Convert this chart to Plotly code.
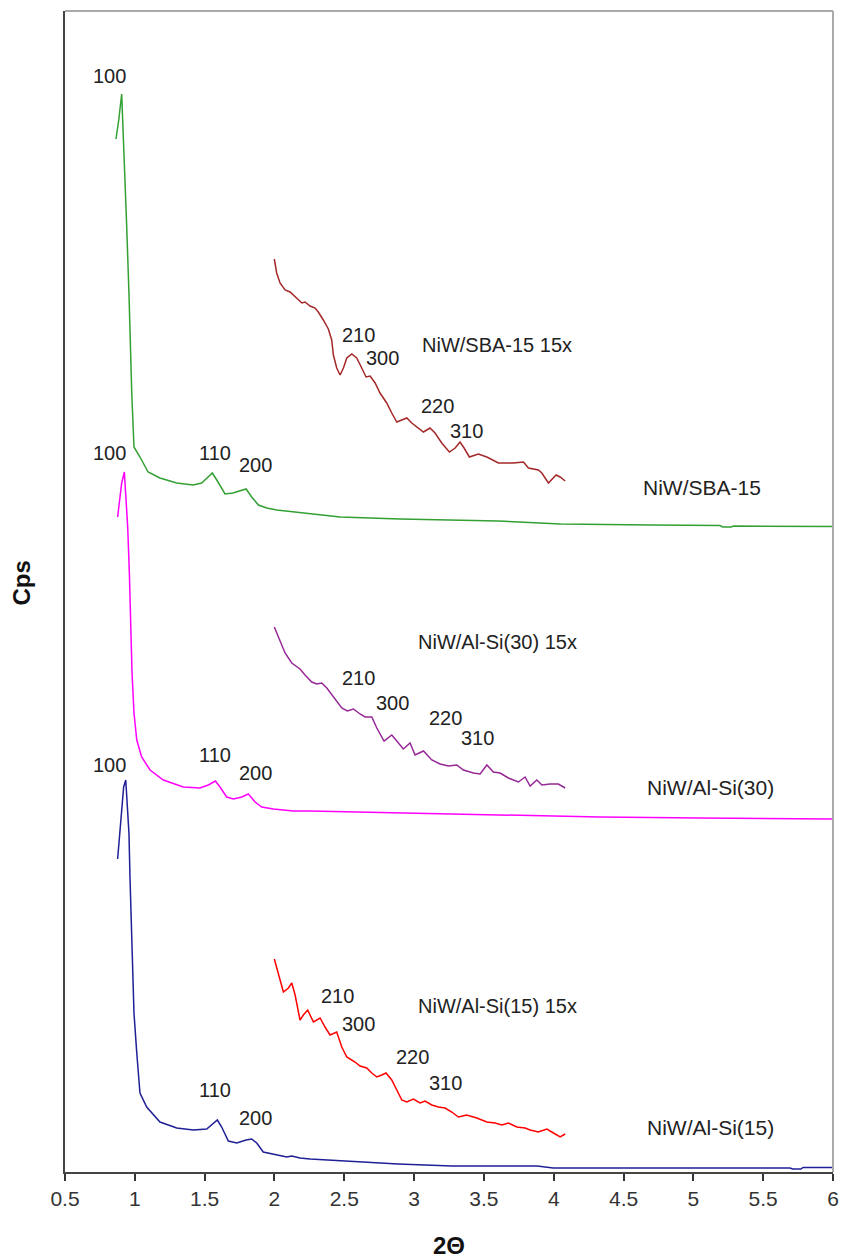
import plotly.graph_objects as go

# ---- data (2-theta, intensity in arbitrary Cps units) ----
sba_x = [0.865, 0.885, 0.906, 0.925, 0.942, 0.958, 0.968, 0.978, 0.994, 1.037, 1.095, 1.18, 1.30, 1.417,
         1.479, 1.515, 1.555, 1.587, 1.646, 1.703, 1.797, 1.837, 1.885, 1.945, 2.016, 2.47, 2.90, 3.60,
         4.05, 4.70, 5.19, 5.21, 5.27, 5.29, 6.0]
sba_y = [1033, 1052, 1078, 1012, 945, 879, 812, 779, 725, 715, 700, 694, 689, 687,
         689, 694, 699, 692, 678, 679, 683, 675, 667, 664, 662, 655, 653, 651,
         648, 647, 646.5, 645, 645, 646, 645.5]

al30_x = [0.877, 0.906, 0.925, 0.949, 0.961, 0.971, 0.980, 0.994, 1.014, 1.049, 1.109, 1.204, 1.347,
          1.467, 1.526, 1.577, 1.61, 1.658, 1.706, 1.766, 1.813, 1.861, 1.909, 1.992, 2.135, 2.255,
          2.90, 3.616, 4.33, 5.05, 6.0]
al30_y = [655, 689, 700, 645, 599, 549, 499, 459, 432, 415, 402, 392, 385,
          384, 387, 391, 385, 375, 373, 375, 378, 370, 365, 363, 361, 361,
          359, 357, 355, 354, 353]

al15_x = [0.877, 0.906, 0.92, 0.935, 0.958, 0.966, 0.978, 0.994, 1.014, 1.037, 1.085, 1.18, 1.30,
          1.419, 1.515, 1.551, 1.591, 1.622, 1.67, 1.73, 1.797, 1.837, 1.873, 1.92, 1.992, 2.088,
          2.124, 2.183, 2.255, 2.885, 3.272, 3.881, 3.996, 5.693, 5.71, 5.77, 5.785, 6.0]
al15_y = [313, 365, 385, 392, 339, 292, 242, 159, 119, 79, 65, 50, 44,
          42, 43, 47, 52, 45, 31, 29, 32, 33, 29, 20, 18, 15,
          16, 14, 13, 8, 6, 6, 4, 4, 3, 3, 4.5, 4.5]

sba15x_x = [1.999, 2.016, 2.040, 2.076, 2.112, 2.148, 2.196, 2.219, 2.255, 2.291, 2.314, 2.35, 2.386,
            2.41, 2.422, 2.446, 2.47, 2.494, 2.518, 2.554, 2.589, 2.625, 2.656, 2.685, 2.721, 2.756,
            2.804, 2.84, 2.876, 2.912, 2.948, 2.983, 3.019, 3.067, 3.114, 3.15, 3.198, 3.253, 3.294,
            3.329, 3.358, 3.396, 3.46, 3.521, 3.604, 3.664, 3.711, 3.783, 3.819, 3.89, 3.915, 3.962,
            4.017, 4.046, 4.082]
sba15x_y = [913, 899, 889, 882, 880, 875, 869, 870, 866, 864, 860, 852, 843,
            832, 817, 804, 797, 804, 814, 818, 814, 804, 795, 796, 789, 779,
            769, 759, 750, 752, 754, 749, 745, 740, 744, 739, 729, 720, 724,
            730, 724, 715, 718, 715, 709, 709, 709, 710, 704, 702, 699, 689,
            697, 695, 691]

al30_15x_x = [1.999, 2.028, 2.052, 2.076, 2.124, 2.183, 2.219, 2.267, 2.303, 2.339, 2.375, 2.422, 2.482,
              2.522, 2.565, 2.613, 2.649, 2.697, 2.733, 2.785, 2.84, 2.876, 2.923, 2.971, 3.007, 3.067,
              3.127, 3.186, 3.246, 3.306, 3.353, 3.425, 3.473, 3.521, 3.568, 3.616, 3.675, 3.747, 3.795,
              3.831, 3.879, 3.915, 3.974, 4.033, 4.082]
al30_15x_y = [545, 535, 527, 519, 509, 503, 497, 490, 488, 489, 484, 475, 464,
              461, 463, 458, 455, 455, 444, 431, 437, 431, 423, 429, 417, 421,
              412, 408, 406, 407, 402, 399, 398, 407, 400, 399, 394, 390, 395,
              386, 392, 387, 388, 388, 384]

al15_15x_x = [1.999, 2.028, 2.064, 2.1, 2.124, 2.148, 2.183, 2.207, 2.238, 2.279, 2.327, 2.362, 2.398,
              2.446, 2.482, 2.518, 2.577, 2.613, 2.661, 2.697, 2.733, 2.769, 2.799, 2.84, 2.88, 2.912,
              2.948, 2.995, 3.043, 3.079, 3.127, 3.174, 3.222, 3.27, 3.317, 3.377, 3.449, 3.521, 3.58,
              3.628, 3.675, 3.736, 3.795, 3.831, 3.89, 3.951, 3.998, 4.046, 4.082]
al15_15x_y = [213, 199, 180, 184, 189, 177, 152, 157, 162, 150, 154, 145, 137,
              140, 125, 115, 110, 106, 104, 99, 95, 97, 99, 92, 80, 72,
              70, 73, 69, 71, 67, 65, 64, 60, 55, 57, 54, 50, 49,
              47, 49, 45, 44, 42, 40, 43, 39, 35, 38]

x_ticks = [0.5, 1, 1.5, 2, 2.5, 3, 3.5, 4, 4.5, 5, 5.5, 6]
x_tick_labels = ["0.5", "1", "1.5", "2", "2.5", "3", "3.5", "4", "4.5", "5", "5.5", "6"]

# reflection labels: (text, x, y)
peak_labels = [
    ("100", 0.822, 1096), ("110", 1.574, 719), ("200", 1.861, 707),
    ("100", 0.822, 719), ("110", 1.574, 417), ("200", 1.861, 399),
    ("100", 0.822, 407), ("110", 1.574, 82), ("200", 1.861, 54),
    ("210", 2.599, 837), ("300", 2.771, 814), ("220", 3.165, 766), ("310", 3.372, 741),
    ("210", 2.599, 494), ("300", 2.842, 469), ("220", 3.222, 454), ("310", 3.451, 434),
    ("210", 2.448, 176), ("300", 2.599, 148), ("220", 2.986, 115), ("310", 3.222, 89),
]
sample_labels = [
    ("NiW/SBA-15 15x", 3.594, 827, 20), ("NiW/Al-Si(30) 15x", 3.594, 530, 20),
    ("NiW/Al-Si(15) 15x", 3.594, 166, 20),
    ("NiW/SBA-15", 5.063, 685, 21), ("NiW/Al-Si(30)", 5.120, 385, 21),
    ("NiW/Al-Si(15)", 5.120, 45, 21),
]

series = [
    (sba_x, sba_y, "#33a033"),
    (al30_x, al30_y, "#ff00ff"),
    (al15_x, al15_y, "#1f1f96"),
    (sba15x_x, sba15x_y, "#a52828"),
    (al30_15x_x, al30_15x_y, "#962896"),
    (al15_15x_x, al15_15x_y, "#ff0000"),
]

FONT = "Liberation Sans, Arial, sans-serif"

fig = go.Figure()
for xs, ys, col in series:
    fig.add_trace(go.Scatter(x=xs, y=ys, mode="lines", line=dict(color=col, width=1.5),
                             showlegend=False, hoverinfo="skip"))

for t, x, y in peak_labels:
    fig.add_annotation(x=x, y=y, text=t, showarrow=False, xanchor="center", yanchor="middle",
                       font=dict(family=FONT, size=20, color="#222222"))
for t, x, y, s in sample_labels:
    fig.add_annotation(x=x, y=y, text=t, showarrow=False, xanchor="center", yanchor="middle",
                       font=dict(family=FONT, size=s, color="#222222"))

# axis titles
fig.add_annotation(xref="paper", yref="paper", x=-0.057, y=0.507, text="<b>Cps</b>", textangle=-90,
                   showarrow=False, xanchor="center", yanchor="middle",
                   font=dict(family=FONT, size=24, color="#111111"))
fig.add_annotation(xref="paper", yref="paper", x=0.5, y=-0.063, text="<b>2Θ</b>",
                   showarrow=False, xanchor="center", yanchor="middle",
                   font=dict(family=FONT, size=24, color="#111111"))

# gray frame at top and right
fig.add_shape(type="line", xref="paper", yref="paper", x0=0, x1=1, y0=1, y1=1,
              line=dict(color="#aaaaaa", width=2))
fig.add_shape(type="line", xref="paper", yref="paper", x0=1, x1=1, y0=0, y1=1,
              line=dict(color="#aaaaaa", width=2))

fig.update_layout(
    width=841, height=1258,
    margin=dict(l=65, r=8, t=11, b=86, autoexpand=False),
    paper_bgcolor="white", plot_bgcolor="white",
    xaxis=dict(range=[0.5, 6], tickvals=x_ticks, ticktext=x_tick_labels,
               ticks="outside", ticklen=7, tickcolor="#333333", tickwidth=1.5,
               showline=True, linecolor="#444444", linewidth=1.5,
               showgrid=False, zeroline=False, automargin=False,
               tickfont=dict(family=FONT, size=21, color="#333333")),
    yaxis=dict(range=[0, 1161], showticklabels=False, ticks="",
               showline=True, linecolor="#444444", linewidth=1.5,
               showgrid=False, zeroline=False, automargin=False),
)

fig.write_html("out.html",
               config={"displayModeBar": False},
               post_script="document.body.style.margin='0';document.body.style.padding='0';"
                           "document.body.style.overflow='hidden';")
